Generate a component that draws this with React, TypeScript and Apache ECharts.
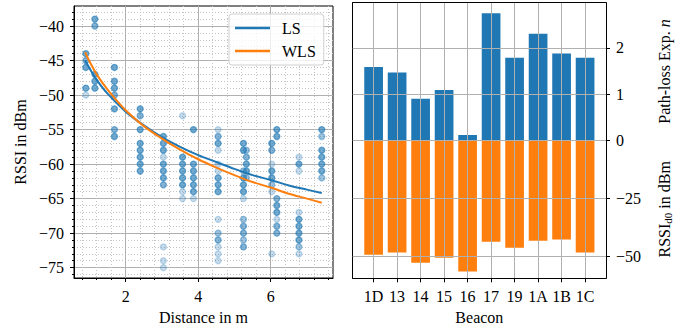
import { useEffect, useRef } from "react";
import * as echarts from "echarts";

// [distance in m, RSSI in dBm, number of overlapping samples]
const scatterPoints: [number, number, number][] = [
  [0.9, -44, 4], [0.9, -45, 3], [0.9, -46, 4], [0.9, -49, 4], [0.9, -50, 1],
  [1.15, -39, 4], [1.15, -40, 3], [1.15, -47, 4], [1.15, -48, 4], [1.15, -49, 4],
  [1.69, -46, 4], [1.69, -48, 4], [1.69, -49, 4], [1.69, -50, 3], [1.69, -52, 4], [1.69, -55, 3], [1.69, -56, 4],
  [2.4, -52, 4], [2.4, -53, 3], [2.4, -55, 4], [2.4, -57, 4], [2.4, -58, 4], [2.4, -59, 4], [2.4, -60, 4], [2.4, -61, 4],
  [3.04, -56, 4], [3.04, -57, 4], [3.04, -58, 4], [3.04, -59, 1], [3.04, -60, 4], [3.04, -61, 4], [3.04, -62, 4], [3.04, -63, 3],
  [3.04, -72, 1], [3.04, -74, 1], [3.04, -75, 1],
  [3.57, -53, 1], [3.57, -59, 4], [3.57, -60, 4], [3.57, -61, 4], [3.57, -62, 4], [3.57, -63, 4], [3.57, -64, 1], [3.57, -65, 1],
  [3.87, -55, 4], [3.87, -60, 4], [3.87, -61, 4], [3.87, -62, 4], [3.87, -63, 4], [3.87, -64, 4], [3.87, -65, 1],
  [4.55, -55, 1], [4.55, -56, 3], [4.55, -57, 4], [4.55, -58, 1], [4.55, -60, 1], [4.55, -61, 1], [4.55, -62, 4], [4.55, -63, 4],
  [4.55, -64, 4], [4.55, -68, 1], [4.55, -70, 2], [4.55, -71, 3], [4.55, -72, 1], [4.55, -73, 1], [4.55, -74, 1],
  [5.25, -57, 4], [5.25, -58, 4], [5.25, -61, 2], [5.25, -62, 4], [5.25, -63, 4], [5.25, -64, 4], [5.25, -65, 1],
  [5.25, -68, 2], [5.25, -69, 3], [5.25, -70, 3], [5.25, -71, 2], [5.25, -72, 3],
  [5.33, -58, 2], [5.33, -59, 3], [5.33, -60, 4], [5.33, -61, 4], [5.33, -62, 2],
  [6.03, -57, 4], [6.03, -58, 3], [6.03, -60, 1], [6.03, -61, 4], [6.03, -62, 4], [6.03, -63, 2], [6.03, -64, 1], [6.03, -73, 1],
  [6.17, -55, 4], [6.17, -56, 4], [6.17, -65, 3], [6.17, -66, 4], [6.17, -67, 4], [6.17, -68, 1], [6.17, -69, 3], [6.17, -70, 3],
  [6.78, -59, 1], [6.78, -60, 4], [6.78, -61, 1], [6.78, -67, 1], [6.78, -68, 4], [6.78, -69, 4], [6.78, -70, 4], [6.78, -71, 4],
  [6.78, -72, 2], [6.78, -73, 1],
  [7.41, -55, 4], [7.41, -56, 2], [7.41, -58, 4], [7.41, -59, 4], [7.41, -60, 4], [7.41, -61, 4], [7.41, -62, 2],
];

// fitted curves
const fitDistance = [0.88, 1.0, 1.2, 1.5, 2, 2.5, 3, 3.5, 4, 4.5, 5, 5.5, 6, 6.5, 7, 7.41];
const lsRssi = [-45.0, -46.1, -47.8, -49.8, -52.4, -54.4, -56.1, -57.5, -58.7, -59.7, -60.7, -61.6, -62.3, -63.1, -63.7, -64.2];
const wlsRssi = [-43.8, -45.1, -47.0, -49.2, -52.2, -54.5, -56.3, -57.9, -59.3, -60.5, -61.6, -62.6, -63.4, -64.3, -65.0, -65.6];

const xMajorTicks = [2, 4, 6];
const xMinorTicks = [0.8, 1.2, 1.6, 2.4, 2.8, 3.2, 3.6, 4.4, 4.8, 5.2, 5.6, 6.4, 6.8, 7.2, 7.6];
const yMajorTicks = [-75, -70, -65, -60, -55, -50, -45, -40];
const yMinorTicks = [-76, -74, -73, -72, -71, -69, -68, -67, -66, -64, -63, -62, -61, -59, -58, -57, -56,
  -54, -53, -52, -51, -49, -48, -47, -46, -44, -43, -42, -41, -39, -38];

const beacons = ["1D", "13", "14", "15", "16", "17", "19", "1A", "1B", "1C"];
const beaconTicks = [0, 1, 2, 3, 4, 5, 6, 7, 8, 9];
const pathLossExp = [1.59, 1.47, 0.9, 1.09, 0.115, 2.75, 1.79, 2.31, 1.88, 1.79];
const rssiD0 = [-49.4, -48.4, -52.8, -50.6, -56.6, -43.7, -46.3, -43.3, -42.8, -48.4];
const nTicks = [0, 1, 2];
const rssiD0Ticks = [-50, -25];

const BLUE = "#1f77b4";
const ORANGE = "#ff7f0e";
const FONT = "Liberation Serif";
const FS = 16;
const GRID = "#b0b0b0";
const MINOR = "#c4c4c4";

const minus = (v: number) => String(v).replace("-", "\u2212");
const txt = { fontFamily: FONT, fontSize: FS, color: "#000" };
const spine = { show: true, onZero: false, lineStyle: { color: "#000", width: 1 } };

export default function App() {
  const ref = useRef<HTMLDivElement>(null);
  useEffect(() => {
    if (!ref.current) return;
    const chart = echarts.init(ref.current, undefined, { renderer: "svg" });

    const scatterData = scatterPoints.map(([d, r, c]) => {
      const a = 1 - Math.pow(0.68, c);
      const col = `rgba(31,119,180,${a.toFixed(3)})`;
      return { value: [d, r], itemStyle: { color: col, borderColor: col, borderWidth: 1.3 } };
    });

    const lineOnly = (gridIndex: number, position: string) => ({
      gridIndex, type: "value", position,
      axisLine: spine,
      axisTick: { show: false }, axisLabel: { show: false }, splitLine: { show: false },
    });

    const option: any = {
      animation: false,
      textStyle: { fontFamily: FONT },
      grid: [
        { left: 74, top: 6, width: 259, height: 272, show: true, borderColor: "#000", borderWidth: 1, backgroundColor: "transparent" },
        { left: 352.7, top: 2.7, width: 253.3, height: 137.6 },
        { left: 352.7, top: 140.3, width: 253.3, height: 138 },
      ],
      legend: {
        data: [{ name: "LS", icon: "rect" }, { name: "WLS", icon: "rect" }],
        orient: "vertical", left: 229, top: 14,
        itemWidth: 35, itemHeight: 2.5, itemGap: 7,
        padding: [6, 8, 6, 6],
        borderColor: "#d0d0d0", borderWidth: 1, borderRadius: 3,
        backgroundColor: "rgba(255,255,255,0.8)",
        textStyle: { ...txt, padding: [0, 0, 0, 7] },
      },
      xAxis: [
        {
          gridIndex: 0, type: "value", min: 0.574, max: 7.72, position: "bottom",
          axisLine: spine,
          axisTick: { show: true, customValues: xMajorTicks, length: 4, lineStyle: { color: "#000" } },
          axisLabel: { customValues: xMajorTicks, margin: 10, ...txt },
          splitLine: { show: true, lineStyle: { color: GRID, width: 1 } },
          name: "Distance in m", nameLocation: "middle", nameGap: 31, nameTextStyle: txt,
        },
        {
          gridIndex: 0, type: "value", min: 0.574, max: 7.72, position: "bottom",
          axisLine: { show: false, onZero: false },
          axisTick: { show: true, customValues: xMinorTicks, length: 2, lineStyle: { color: "#000" } },
          axisLabel: { show: false },
          splitLine: { show: true, lineStyle: { color: MINOR, width: 1, type: [1, 2] } },
        },
        {
          gridIndex: 1, type: "value", min: -0.89, max: 9.89, position: "top", z: 5,
          axisLine: spine,
          axisTick: { show: false, customValues: beaconTicks },
          axisLabel: { show: false },
          splitLine: { show: true, lineStyle: { color: GRID, width: 1 } },
        },
        {
          gridIndex: 2, type: "value", min: -0.89, max: 9.89, position: "bottom", z: 5,
          axisLine: spine,
          axisTick: { show: true, customValues: beaconTicks, length: 4, lineStyle: { color: "#000" } },
          axisLabel: { customValues: beaconTicks, margin: 10, ...txt, formatter: (v: number) => beacons[Math.round(v)] },
          splitLine: { show: true, lineStyle: { color: GRID, width: 1 } },
          name: "Beacon", nameLocation: "middle", nameGap: 31, nameTextStyle: txt,
        },
      ],
      yAxis: [
        {
          gridIndex: 0, type: "value", min: -76.5, max: -37.1, position: "left",
          axisLine: spine,
          axisTick: { show: true, customValues: yMajorTicks, length: 4, lineStyle: { color: "#000" } },
          axisLabel: { customValues: yMajorTicks, margin: 10, ...txt, formatter: minus },
          splitLine: { show: true, lineStyle: { color: GRID, width: 1 } },
          name: "RSSI in dBm", nameLocation: "middle", nameRotate: 90, nameGap: 46, nameTextStyle: txt,
        },
        {
          gridIndex: 0, type: "value", min: -76.5, max: -37.1, position: "left",
          axisLine: { show: false, onZero: false },
          axisTick: { show: true, customValues: yMinorTicks, length: 2, lineStyle: { color: "#000" } },
          axisLabel: { show: false },
          splitLine: { show: true, lineStyle: { color: MINOR, width: 1, type: [1, 2] } },
        },
        {
          gridIndex: 1, type: "value", min: 0, max: 2.98, position: "right", z: 5,
          axisLine: spine,
          axisTick: { show: true, customValues: nTicks, length: 4, lineStyle: { color: "#000" } },
          axisLabel: { customValues: nTicks, margin: 10, ...txt },
          splitLine: { show: true, lineStyle: { color: GRID, width: 1 } },
          name: "Path-loss Exp. {i|n}", nameLocation: "middle", nameRotate: 90, nameGap: 50,
          nameTextStyle: { ...txt, rich: { i: { ...txt, fontStyle: "italic" } } },
        },
        lineOnly(1, "left"),
        {
          gridIndex: 2, type: "value", min: -59.5, max: 0, position: "right", z: 5,
          axisLine: spine,
          axisTick: { show: true, customValues: rssiD0Ticks, length: 4, lineStyle: { color: "#000" } },
          axisLabel: { customValues: rssiD0Ticks, margin: 10, ...txt, formatter: minus },
          splitLine: { show: true, lineStyle: { color: GRID, width: 1 } },
          name: "RSSI{sub|d0} in dBm", nameLocation: "middle", nameRotate: 90, nameGap: 50,
          nameTextStyle: { ...txt, rich: { sub: { fontFamily: FONT, fontSize: 11, color: "#000", verticalAlign: "bottom", padding: [6, 0, 0, 0] } } },
        },
        lineOnly(2, "left"),
      ],
      series: [
        {
          type: "scatter", xAxisIndex: 0, yAxisIndex: 0, symbol: "circle", symbolSize: 6,
          data: scatterData, z: 2, silent: true,
        },
        {
          name: "LS", type: "line", xAxisIndex: 0, yAxisIndex: 0, smooth: 0.3, showSymbol: false, z: 4,
          color: BLUE, lineStyle: { color: BLUE, width: 2 },
          data: fitDistance.map((d, i) => [d, lsRssi[i]]),
        },
        {
          name: "WLS", type: "line", xAxisIndex: 0, yAxisIndex: 0, smooth: 0.3, showSymbol: false, z: 4,
          color: ORANGE, lineStyle: { color: ORANGE, width: 2 },
          data: fitDistance.map((d, i) => [d, wlsRssi[i]]),
        },
        {
          type: "bar", xAxisIndex: 2, yAxisIndex: 2, barWidth: 18.7, itemStyle: { color: BLUE },
          data: beacons.map((_, i) => [i, pathLossExp[i]]),
        },
        {
          type: "bar", xAxisIndex: 3, yAxisIndex: 4, barWidth: 18.7, itemStyle: { color: ORANGE },
          data: beacons.map((_, i) => [i, rssiD0[i]]),
        },
      ],
    };
    chart.setOption(option);
    return () => chart.dispose();
  }, []);
  return <div ref={ref} style={{ position: "absolute", left: 0, top: 0, width: 697, height: 333 }} />;
}
